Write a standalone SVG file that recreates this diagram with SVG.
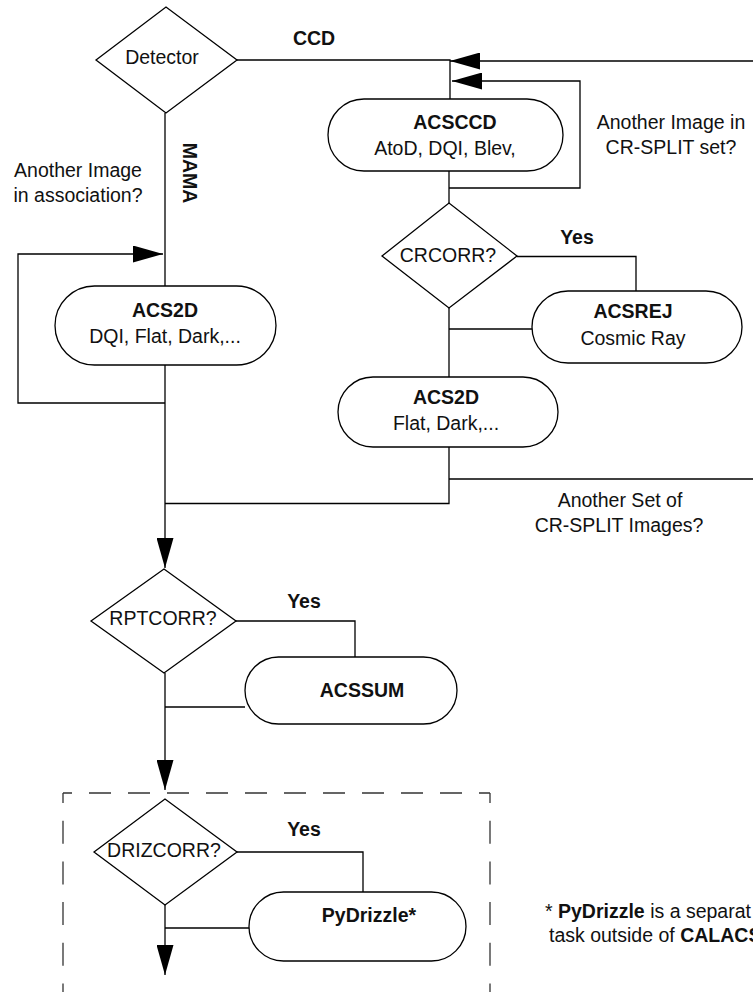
<svg xmlns="http://www.w3.org/2000/svg" width="753" height="992" viewBox="0 0 753 992">
<defs>
<style>
.n{fill:#fff;stroke:#000;stroke-width:1.3}
.c{fill:none;stroke:#000;stroke-width:1.3}
.d{fill:none;stroke:#333;stroke-width:1.3}
text{font-family:"Liberation Sans",Arial,Helvetica,sans-serif;font-size:19.5px;fill:#111}
.m{text-anchor:middle}
.b{font-weight:bold}
</style>
<marker id="ah" markerUnits="userSpaceOnUse" markerWidth="30" markerHeight="17" refX="30" refY="8.5" orient="auto" viewBox="0 0 30 17">
<path d="M0,0 L30,8.5 L0,17 Z" fill="#000"/>
</marker>
</defs>
<rect width="753" height="992" fill="#fff"/>
<g id="connectors">
<path class="c" d="M237,60 H450 V99"/>
<path class="c" d="M753,61 H450" marker-end="url(#ah)"/>
<path class="c" d="M449,188 H580 V81 H452" marker-end="url(#ah)"/>
<path class="c" d="M449,171 V203"/>
<path class="c" d="M517,256.5 H636 V291"/>
<path class="c" d="M532,329 H449"/>
<path class="c" d="M449,308 V377"/>
<path class="c" d="M449,447 V503.5 H165"/>
<path class="c" d="M449,479 H753"/>
<path class="c" d="M165,113 V286"/>
<path class="c" d="M165,403 H18 V254 H163" marker-end="url(#ah)"/>
<path class="c" d="M165,365 V568" marker-end="url(#ah)"/>
<path class="c" d="M236,621 H355 V657"/>
<path class="c" d="M245,707 H165"/>
<path class="c" d="M165,673 V790" marker-end="url(#ah)"/>
<path class="c" d="M237,852 H363 V892"/>
<path class="c" d="M249,928 H165"/>
<path class="c" d="M165,905 V975" marker-end="url(#ah)"/>
</g>
<g id="drizzle-box">
<path class="d" d="M63,793 H490" stroke-dasharray="22 17" stroke-dashoffset="13"/>
<path class="d" d="M63,793 V992" stroke-dasharray="23 17.7" stroke-dashoffset="13"/>
<path class="d" d="M490,793 V992" stroke-dasharray="23 17.7" stroke-dashoffset="13"/>
</g>
<g id="detector">
<polygon class="n" points="96,60 166,7 237,60 166,113"/>
<text class="m" x="162" y="64">Detector</text>
</g>
<g id="acsccd">
<rect class="n" x="328" y="99" width="235" height="72" rx="36"/>
<text class="m b" x="455" y="129">ACSCCD</text>
<text class="m" x="445" y="155">AtoD, DQI, Blev,</text>
</g>
<g id="acs2d-mama">
<rect class="n" x="55" y="286" width="221" height="79" rx="39.5"/>
<text class="m b" x="165" y="317">ACS2D</text>
<text class="m" x="165" y="343">DQI, Flat, Dark,...</text>
</g>
<g id="crcorr">
<polygon class="n" points="382,256 449,203 517,256 449,308"/>
<text class="m" x="448" y="262">CRCORR?</text>
</g>
<g id="acsrej">
<rect class="n" x="532" y="291" width="210" height="72" rx="36"/>
<text class="m b" x="633" y="318">ACSREJ</text>
<text class="m" x="633" y="345">Cosmic Ray</text>
</g>
<g id="acs2d-ccd">
<rect class="n" x="338" y="377" width="220" height="70" rx="35"/>
<text class="m b" x="446" y="404">ACS2D</text>
<text class="m" x="446" y="430">Flat, Dark,...</text>
</g>
<g id="rptcorr">
<polygon class="n" points="91,621 164,569 236,621 164,673"/>
<text class="m" x="163" y="625">RPTCORR?</text>
</g>
<g id="acssum">
<rect class="n" x="245" y="657" width="212" height="67" rx="33.5"/>
<text class="m b" x="362" y="697">ACSSUM</text>
</g>
<g id="drizcorr">
<polygon class="n" points="94,852 165,799 237,852 165,905"/>
<text class="m" x="164" y="857">DRIZCORR?</text>
</g>
<g id="pydrizzle">
<rect class="n" x="249" y="892" width="217" height="69" rx="34.5"/>
<text class="m b" x="369" y="922">PyDrizzle*</text>
</g>
<g id="labels">
<text class="m b" x="314" y="45">CCD</text>
<text class="m b" transform="translate(183,173) rotate(90)">MAMA</text>
<text class="m" x="78" y="177">Another Image</text>
<text class="m" x="78" y="202">in association?</text>
<text class="m" x="671" y="129">Another Image in</text>
<text class="m" x="671" y="154">CR-SPLIT set?</text>
<text class="m b" x="577" y="244">Yes</text>
<text class="m b" x="304" y="608">Yes</text>
<text class="m b" x="304" y="836">Yes</text>
<text class="m" x="620" y="507">Another Set of</text>
<text class="m" x="619" y="532">CR-SPLIT Images?</text>
<text x="545" y="918">* <tspan class="b">PyDrizzle</tspan> is a separat</text>
<text x="549" y="942">task outside of <tspan class="b">CALACS</tspan></text>
</g>
</svg>
